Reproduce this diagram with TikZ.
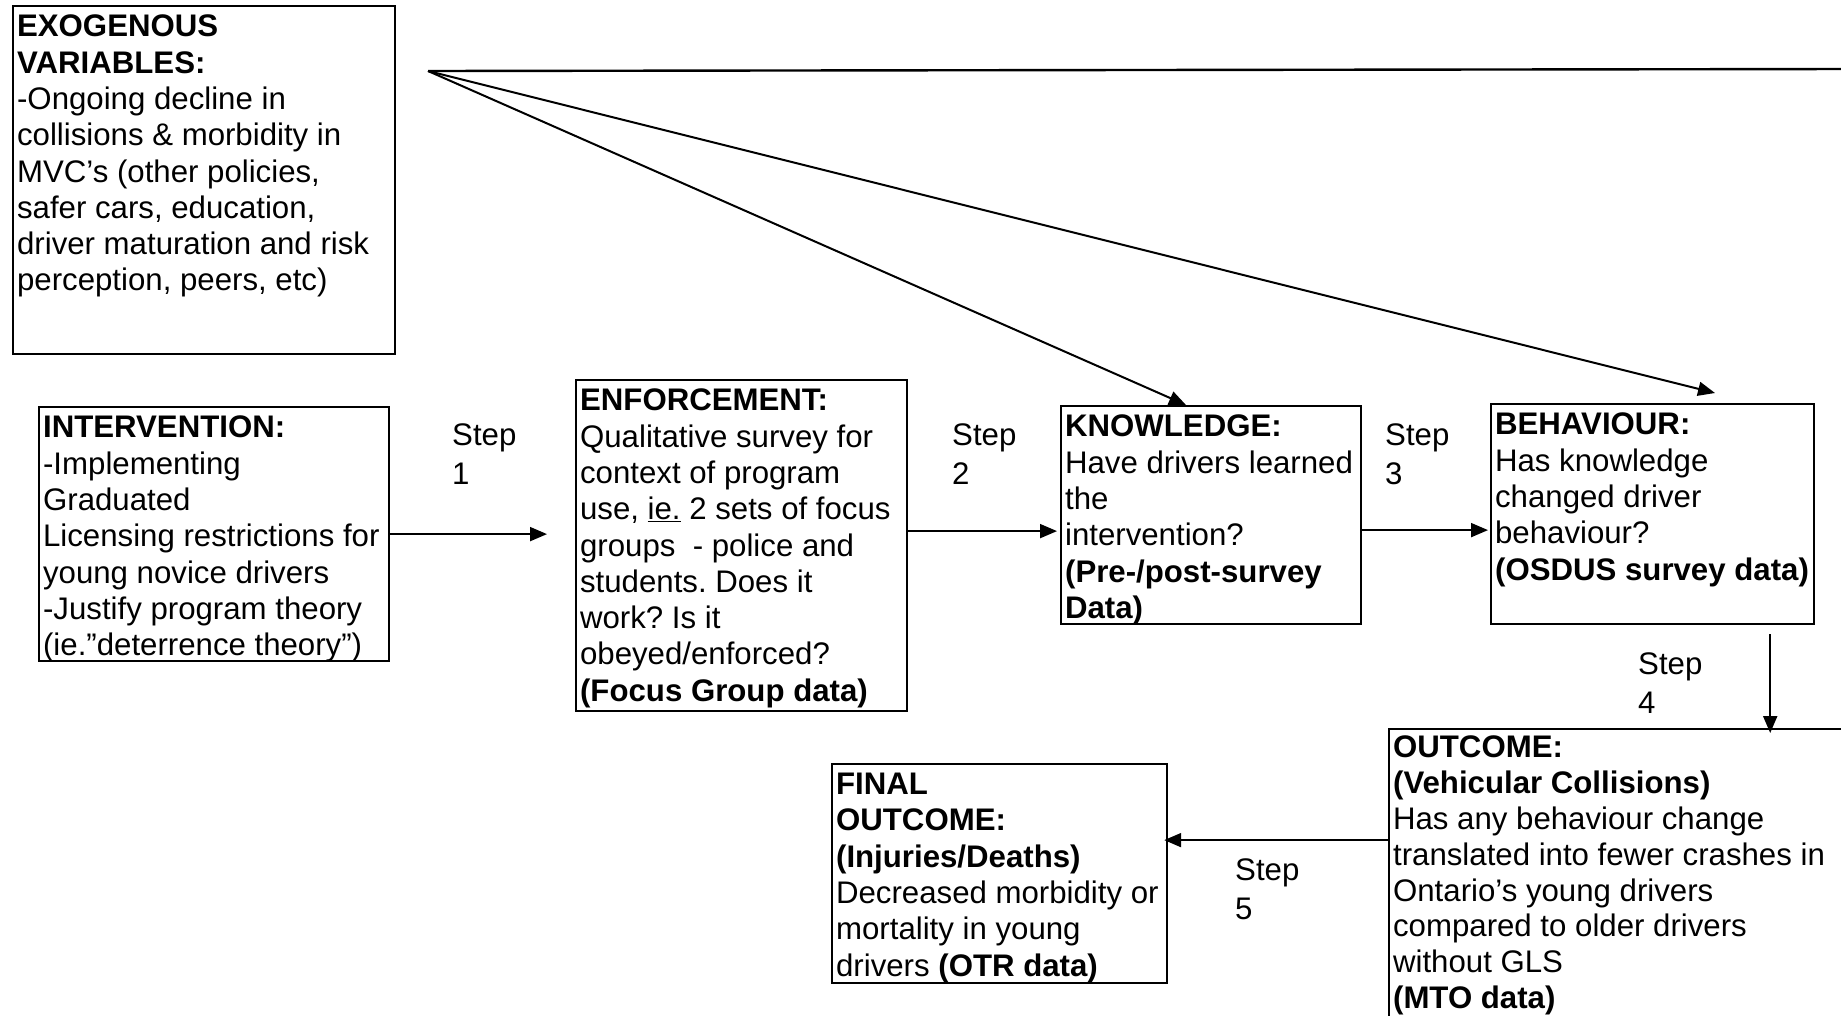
\documentclass[tikz,border=0pt]{standalone}
\usepackage{fontspec}
\setmainfont{Liberation Sans}
\usetikzlibrary{arrows.meta,calc}
% fixed-size text cell: width, height, lines (text set from the top)
\newcommand\cellbox[3]{\parbox[t][#2][t]{#1}{\fontsize{31.2}{36.3}\selectfont\frenchspacing\vskip 3pt #3}}
\newcommand\tline[1]{\hbox to \hsize{#1\hss}}
\begin{document}
\begin{tikzpicture}[x=1pt,y=-1pt,
  cell/.style={draw, line width=2.2pt, anchor=north west, inner xsep=4pt, inner ysep=6pt},
  steplbl/.style={anchor=north west, inner sep=0pt, align=left, font=\fontsize{31.2}{39}\selectfont},
  link/.style={line width=2.4pt},
  arr/.style={line width=2pt, -{Triangle[length=17pt,width=14pt]}}]
\useasboundingbox (0,0) rectangle (1841,1015);
\fill[white] (0,0) rectangle (1841,1015);
\clip (0,0) rectangle (1841,1015);

% boxes
\node[cell] (exo) at (12,5) {\cellbox{374pt}{336pt}{%
  \tline{\textbf{EXOGENOUS}}
  \tline{\textbf{VARIABLES:}}
  \tline{-Ongoing decline in}
  \tline{collisions \& morbidity in}
  \tline{MVC’s (other policies,}
  \tline{safer cars, education,}
  \tline{driver maturation and risk}
  \tline{perception, peers, etc)}}};

\node[cell] (interv) at (38,406) {\cellbox{342pt}{242pt}{%
  \tline{\textbf{INTERVENTION:}}
  \tline{-Implementing}
  \tline{Graduated}
  \tline{Licensing restrictions for}
  \tline{young novice drivers}
  \tline{-Justify program theory}
  \tline{(ie."deterrence theory”)}}};

\node[cell] (enf) at (575,379) {\cellbox{323pt}{319pt}{%
  \tline{\textbf{ENFORCEMENT:}}
  \tline{Qualitative survey for}
  \tline{context of program}
  \tline{use, \underline{ie.} 2 sets of focus}
  \tline{groups\ \ - police and}
  \tline{students. Does it}
  \tline{work? Is it}
  \tline{obeyed/enforced?}
  \tline{\textbf{(Focus Group data)}}}};

\node[cell] (know) at (1060,405) {\cellbox{292pt}{206pt}{%
  \tline{\textbf{KNOWLEDGE:}}
  \tline{Have drivers learned}
  \tline{the}
  \tline{intervention?}
  \tline{\textbf{(Pre-/post-survey}}
  \tline{\textbf{Data)}}}};

\node[cell] (beh) at (1490,403) {\cellbox{315pt}{208pt}{%
  \tline{\textbf{BEHAVIOUR:}}
  \tline{Has knowledge}
  \tline{changed driver}
  \tline{behaviour?}
  \tline{\textbf{(OSDUS survey data)}}}};

% slightly tighter lines so the last one stays on the page
\node[cell] (outc) at (1388,728) {\cellbox{464pt}{290pt}{%
  \vskip -2pt\baselineskip=35.8pt
  \tline{\textbf{OUTCOME:}}
  \tline{\textbf{(Vehicular Collisions)}}
  \tline{Has any behaviour change}
  \tline{translated into fewer crashes in}
  \tline{Ontario’s young drivers}
  \tline{compared to older drivers}
  \tline{without GLS}
  \tline{\textbf{(MTO data)}}}};

\node[cell] (final) at (831,763) {\cellbox{327pt}{207pt}{%
  \tline{\textbf{FINAL}}
  \tline{\textbf{OUTCOME:}}
  \tline{\textbf{(Injuries/Deaths)}}
  \tline{Decreased morbidity or}
  \tline{mortality in young}
  \tline{drivers \textbf{(OTR data)}}}};

% step labels
\node[steplbl] (s1) at (452,424) {Step\\1};
\node[steplbl] (s2) at (952,424) {Step\\2};
\node[steplbl] (s3) at (1385,424) {Step\\3};
\node[steplbl] (s4) at (1638,653) {Step\\4};
\node[steplbl] (s5) at (1235,858) {Step\\5};

% influence of exogenous variables
\coordinate (src) at (428,71);
\coordinate (topend) at (1850,69);
\draw[link] (src) -- (topend);
\draw[arr] (src) -- ($(know.north west)+(126,0)$);
\draw[arr] (src) -- ($(beh.north west)+(225,-10)$);

% step arrows
\coordinate (p2) at ($(enf.east)+(0,-14.5)$);
\coordinate (p3) at ($(know.east)+(0,15)$);
\coordinate (p4) at ($(beh.south east)+(-45,9)$);
\coordinate (p5) at ($(outc.west)+(0,-40)$);
\draw[arr] (interv.east) -- ($(interv.east -| enf.west)+(-28,0)$);
\draw[arr] (p2) -- ($(p2 -| know.west)+(-3,0)$);
\draw[arr] (p3) -- ($(p3 -| beh.west)+(-2,0)$);
\draw[arr] (p4) -- ($(p4 |- outc.north)+(0,5)$);
\draw[arr] (p5) -- ($(p5 -| final.east)+(-4,0)$);
\end{tikzpicture}
\end{document}
